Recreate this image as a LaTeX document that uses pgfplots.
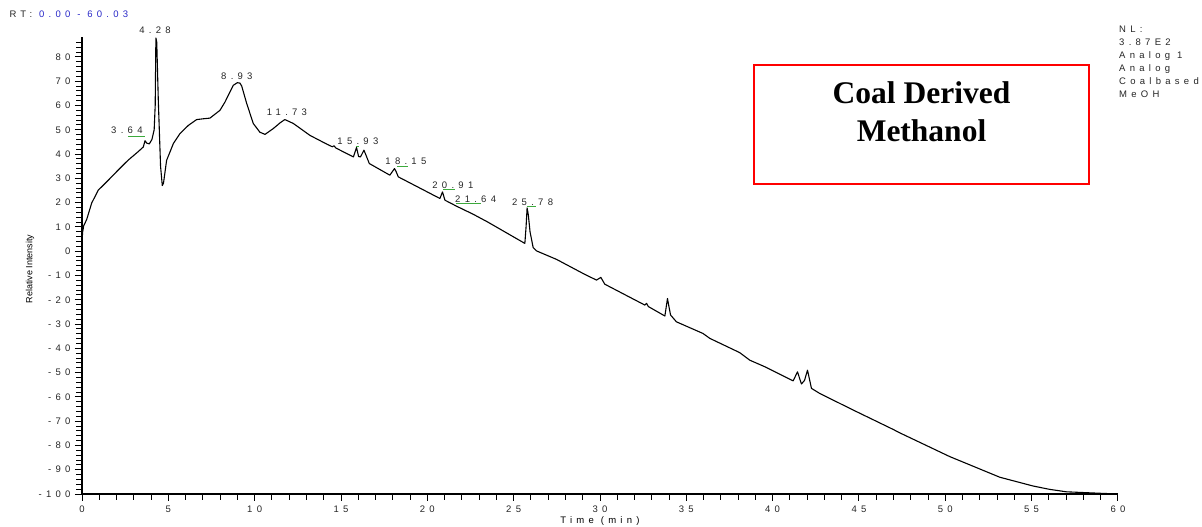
\documentclass[border=0pt]{standalone}
\usepackage{pgfplots}
\pgfplotsset{compat=1.18}
\usepackage{fontspec}
\setmainfont{Liberation Sans}
\newfontfamily\spaced[LetterSpace=45]{Liberation Sans}
\newfontfamily\tnr{Liberation Serif}
\definecolor{rtblue}{RGB}{40,40,200}
\definecolor{intgreen}{RGB}{60,170,60}

\begin{document}
\begin{tikzpicture}[x=1pt,y=1pt]
\useasboundingbox (0,0) rectangle (1202,527);
\begin{axis}[
  at={(82pt,33pt)}, anchor=south west,
  scale only axis, width=1036pt, height=456.5pt,
  xmin=0, xmax=60, ymin=-100, ymax=88,
  axis lines=left, axis line style={-, line width=1.2pt},
  clip=false,
  xtick={0,5,...,60}, minor xtick={0,1,...,60},
  ytick={-100,-90,...,80}, minor ytick={-100,-98,...,86},
  tick align=outside, major tick length=7pt, minor tick length=6pt,
  tick style={black, line width=0.9pt},
  /pgf/number format/assume math mode=true,
  ticklabel style={font=\spaced\fontsize{9.5}{10}\selectfont, text=black!85},
  yticklabel style={xshift=-1pt},
  xticklabel style={yshift=-1pt},
  xlabel={Time (min)},
  xlabel style={at={(axis description cs:0.5,-0.059)}, anchor=center, font=\spaced\fontsize{9.5}{10}\selectfont},
  ylabel={Relative Intensity},
  ylabel style={at={(axis description cs:-0.0502,0.493)}, anchor=center, font=\fontsize{9}{10}\selectfont},
]
\addplot[black, line width=1.1pt, line join=round, mark=none] coordinates {
(0,4) (0.04,8) (0.1,10.5) (0.27,13) (0.56,19.8) (0.94,25.1) (1.52,29.2)
(2.08,33.3) (2.66,37.4) (3.24,40.9) (3.55,42.9) (3.65,45.5) (3.75,44.5)
(3.9,44.2) (4.05,46) (4.18,50) (4.24,60) (4.28,87.8) (4.33,86) (4.42,62)
(4.55,35) (4.65,27) (4.72,28) (4.9,37.4) (5.29,44.3) (5.67,48.4) (6.16,51.8)
(6.64,54.2) (7.0,54.5) (7.41,54.8) (7.99,58) (8.28,61.4) (8.76,68.3)
(9.0,69.4) (9.15,69.2) (9.25,68) (9.54,60.8) (9.92,52.6) (10.3,49)
(10.6,48.1) (11.08,50.5) (11.5,53) (11.75,54.2) (12.24,52.6) (13.2,47.7)
(14.2,44) (14.5,43) (14.6,43.4) (14.7,42.5) (15.72,38.8) (15.9,42.7)
(16.02,39) (16.13,38.8) (16.33,41.6) (16.45,39.5) (16.64,36.1) (17.83,31.3)
(18.1,34) (18.18,33) (18.32,30.6) (20.73,21.7) (20.88,24.4) (21.02,21)
(21.7,18.5) (22.66,15.2) (23.5,12) (25.65,3.2) (25.72,10) (25.78,17.8)
(25.85,15) (25.95,8) (26.13,1.5) (26.33,0.1) (27.49,-3.4) (28.84,-8.5)
(29.22,-9.9) (29.8,-11.9) (30.05,-10.8) (30.28,-13.6) (32.6,-22.2)
(32.7,-21.5) (32.8,-22.8) (33.76,-26.7) (33.91,-19.5) (34.0,-23)
(34.09,-26.3) (34.43,-29.1) (35.97,-33.9) (36.36,-35.9) (38.1,-41.8)
(38.68,-44.9) (39.55,-47.6) (41.19,-53.4) (41.44,-49.7) (41.67,-54.7)
(41.85,-53.2) (42.02,-49) (42.25,-56.5) (42.73,-58.6) (44.66,-65.4)
(46.98,-73.4) (47.36,-74.8) (50.26,-84.6) (53.16,-93.1) (55.08,-96.7)
(56.05,-98.1) (57.02,-99.1) (58.96,-99.7) (60,-100)
};
% integration baselines
\addplot[intgreen, line width=1pt, mark=none] coordinates {(2.66,47.3) (3.65,47.3)};
\addplot[intgreen, line width=1pt, mark=none] coordinates {(15.87,43.2) (16.04,43.2)};
\addplot[intgreen, line width=1pt, mark=none] coordinates {(18.24,35) (18.88,35)};
\addplot[intgreen, line width=1pt, mark=none] coordinates {(20.9,25.5) (21.6,25.5)};
\addplot[intgreen, line width=1pt, mark=none] coordinates {(21.66,19.8) (23.1,19.8)};
\addplot[intgreen, line width=1pt, mark=none] coordinates {(25.77,18.5) (26.29,18.5)};
% peak labels
\begin{scope}[every node/.style={font=\spaced\fontsize{9.5}{10}\selectfont, text=black!85}]
\node at (axis cs:4.23,90.9) {4.28};
\node at (axis cs:8.97,72) {8.93};
\node at (axis cs:11.87,57.2) {11.73};
\node at (axis cs:2.6,49.8) {3.64};
\node at (axis cs:15.98,45.3) {15.93};
\node at (axis cs:18.76,37) {18.15};
\node at (axis cs:21.48,27.2) {20.91};
\node at (axis cs:22.8,21.4) {21.64};
\node at (axis cs:26.1,20.2) {25.78};
\end{scope}
\end{axis}
\node[anchor=base west, font=\spaced\fontsize{9.5}{10}\selectfont, text=black!85] at (6,509)
  {RT: \textcolor{rtblue}{0.00 - 60.03}};
\node[anchor=north west, align=left, font=\spaced\fontsize{9.5}{13}\selectfont, text=black!85,
  inner sep=0pt] at (1119,501)
  {NL:\\3.87E2\\Analog 1\\Analog\\Coalbased\\MeOH};
\draw[red, line width=1.6pt] (754,462) rectangle (1089,343);
\node[anchor=base, align=center, font=\tnr\bfseries\fontsize{31.5}{38}\selectfont,
  inner sep=0pt] at (921.5,385) {Coal Derived\\Methanol};
\end{tikzpicture}
\end{document}
